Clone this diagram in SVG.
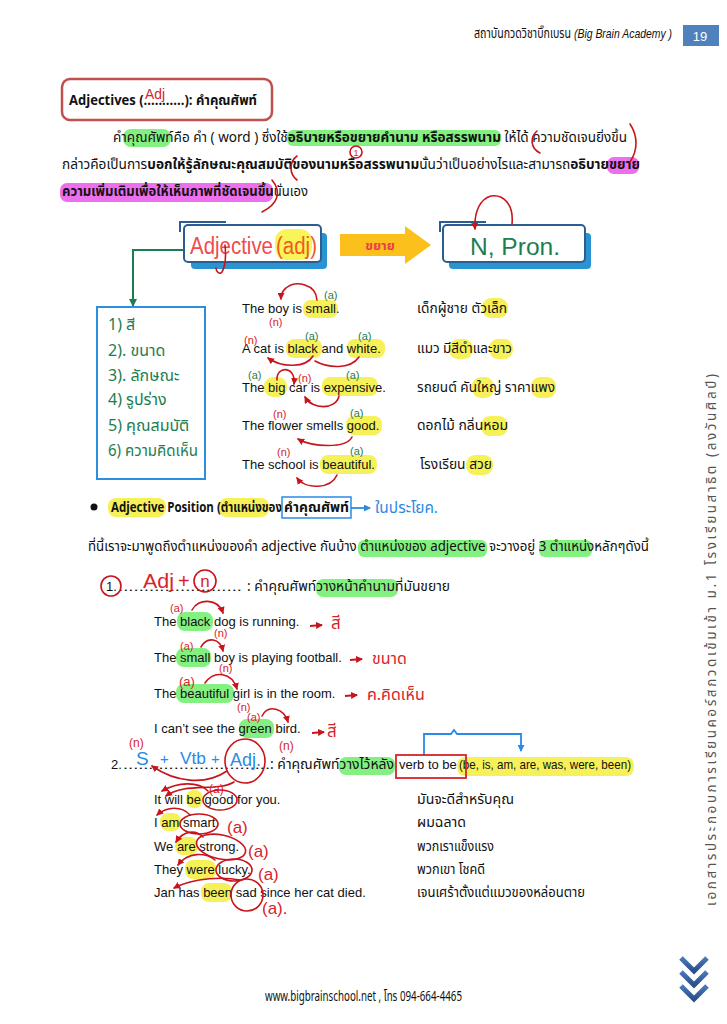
<svg xmlns="http://www.w3.org/2000/svg" width="727" height="1024" viewBox="0 0 727 1024">
<defs>
<style>
.en{font-family:"Liberation Sans",Arial,sans-serif;font-size:13px;fill:#111}
.th{font-family:"Noto Sans Thai","Noto Sans",sans-serif;font-size:13.5px;fill:#111}
.b{font-weight:bold}
.hy{fill:#f6ef3c;opacity:.85}
.hg{fill:#78ee74;opacity:.9}
.hm{fill:#ec5fec;opacity:.9}
.hr{font-family:"Liberation Sans",Arial,sans-serif;fill:#d8232a}
.hgn{font-family:"Liberation Sans",Arial,sans-serif;fill:#1d7d52}
.hb{font-family:"Liberation Sans",Arial,sans-serif;fill:#2a8ae6}
.ht{font-family:"Noto Sans Thai","Noto Sans",sans-serif}
.ra{fill:none;stroke:#c8141c;stroke-width:1.6;stroke-linecap:round}
.ov{fill:none;stroke:#c8141c;stroke-width:1.6}
</style>
<marker id="ar" markerWidth="7" markerHeight="7" refX="6" refY="3.5" orient="auto" markerUnits="userSpaceOnUse"><path d="M0,0 L7,3.5 L0,7 z" fill="#c8141c"/></marker>
<marker id="ag" markerWidth="8" markerHeight="8" refX="7" refY="4" orient="auto" markerUnits="userSpaceOnUse"><path d="M0,0 L8,4 L0,8 z" fill="#1d7d52"/></marker>
<marker id="ab" markerWidth="7" markerHeight="7" refX="6" refY="3.5" orient="auto" markerUnits="userSpaceOnUse"><path d="M0,0 L7,3.5 L0,7 z" fill="#2a8ae6"/></marker>
<linearGradient id="chev" x1="0" y1="0" x2="0" y2="1"><stop offset="0" stop-color="#4a78b8"/><stop offset="1" stop-color="#2a4f8a"/></linearGradient>
</defs>
<rect width="727" height="1024" fill="#fff"/>

<g id="header">
<text x="474" y="38" class="th" font-size="13" textLength="97" lengthAdjust="spacingAndGlyphs">สถาบันกวดวิชาบิ๊กเบรน</text>
<text x="574" y="38" class="en" font-size="9" font-style="italic" textLength="98" lengthAdjust="spacingAndGlyphs">(Big Brain Academy )</text>
<rect x="683" y="25" width="36" height="21" fill="#4f81bd"/>
<text x="700" y="41" class="en" font-size="13" style="fill:#fff" text-anchor="middle">19</text>
</g>

<g id="title">
<rect x="62" y="79" width="210" height="41" rx="8" fill="#fff" stroke="#c0504d" stroke-width="2.5"/>
<text x="69" y="105" class="th b" font-size="13" textLength="188" lengthAdjust="spacingAndGlyphs">Adjectives (...........): คำคุณศัพท์</text>
<text x="145" y="99" class="hr" font-size="15" textLength="20" lengthAdjust="spacingAndGlyphs">Adj</text>
</g>

<g id="paragraph">
<rect x="123" y="129" width="48" height="18" rx="8" class="hg"/>
<rect x="287" y="130" width="214" height="16" rx="6" class="hg"/>
<rect x="607" y="157" width="32" height="17" rx="7" class="hm"/>
<rect x="60" y="183" width="213" height="19" rx="7" class="hm"/>
<text x="113" y="142" class="th" textLength="514" lengthAdjust="spacingAndGlyphs">คำคุณศัพท์คือ คำ ( word ) ซึ่งใช้<tspan class="b">อธิบายหรือขยายคำนาม หรือสรรพนาม</tspan> ให้ได้ ความชัดเจนยิ่งขึ้น</text>
<text x="62" y="169" class="th" textLength="578" lengthAdjust="spacingAndGlyphs">กล่าวคือเป็นการ<tspan class="b">บอกให้รู้ลักษณะคุณสมบัติของนามหรือสรรพนาม</tspan>นั้นว่าเป็นอย่างไรและสามารถ<tspan class="b">อธิบายขยาย</tspan></text>
<text x="62" y="196" class="th" textLength="246" lengthAdjust="spacingAndGlyphs"><tspan class="b">ความเพิ่มเติมเพื่อให้เห็นภาพที่ชัดเจนขึ้น</tspan>นั่นเอง</text>
<path class="ra" d="M537,131 C530,137 530,148 540,153"/>
<path class="ra" d="M630,124 C638,136 638,150 630,162"/>
<path class="ra" d="M297,156 C289,162 289,174 297,180"/>
<circle cx="356" cy="152" r="6" class="ov" stroke-width="1.2"/>
<text x="356" y="156" class="hr" font-size="9" text-anchor="middle">1</text>
<path class="ra" d="M272,180 C282,192 278,204 262,212"/>
</g>

<g id="adj-box">
<path d="M180,232 L180,222 L226,222" fill="none" stroke="#2c5d8f" stroke-width="2"/>
<rect x="191" y="233" width="136" height="36" rx="4" fill="#2a93d2"/>
<rect x="184" y="225" width="137" height="37" rx="4" fill="#fff" stroke="#2c5d8f" stroke-width="2"/>
<rect x="275" y="229" width="37" height="31" rx="12" fill="#f7f33c" opacity=".85"/>
<text x="190" y="254" class="hr" font-size="23" textLength="83" lengthAdjust="spacingAndGlyphs" style="fill:#f04b4b">Adjective</text>
<text x="276" y="254" class="hr" font-size="23" textLength="41" lengthAdjust="spacingAndGlyphs" style="fill:#f05a20">(adj)</text>
<path class="ra" d="M225,245 C226,255 226,265 222,272 C220,275 216,272 216,268"/>
</g>

<g id="arrow-khayai">
<path d="M340,234 L405,234 L405,226 L431,245 L405,264 L405,256 L340,256 Z" fill="#fbc01c"/>
<text x="380" y="250" class="ht" font-size="13" fill="#e8404a" text-anchor="middle" font-weight="bold">ขยาย</text>
</g>

<g id="npron-box">
<path d="M440,232 L440,222 L486,222" fill="none" stroke="#2c5d8f" stroke-width="2"/>
<rect x="449" y="233" width="142" height="36" rx="4" fill="#2a93d2"/>
<rect x="443" y="225" width="142" height="37" rx="4" fill="#fff" stroke="#2c5d8f" stroke-width="2"/>
<text x="470" y="255" class="hgn" font-size="24" textLength="90" lengthAdjust="spacingAndGlyphs">N, Pron.</text>
<path class="ra" d="M512,224 C514,204 503,194 491,196 C480,199 474,212 475,229" marker-end="url(#ar)"/>
</g>

<g id="connectors">
<path d="M184,250 L133,250 L133,306" fill="none" stroke="#1d7d52" stroke-width="2" marker-end="url(#ag)"/>
<path d="M351,508 L370,508" fill="none" stroke="#2a8ae6" stroke-width="1.8" marker-end="url(#ab)"/>
<path d="M424,756 L424,734 L451,734 L454,730 L457,734 L521,734 L521,751" fill="none" stroke="#2a8ae6" stroke-width="1.8" marker-end="url(#ab)"/>
</g>

<g id="list-box">
<rect x="97" y="307" width="108" height="172" fill="#fff" stroke="#2b8fe0" stroke-width="2"/>
<g class="ht" font-size="16" fill="#1d7d52">
<text x="108" y="330">1) สี</text>
<text x="108" y="356">2). ขนาด</text>
<text x="108" y="381">3). ลักษณะ</text>
<text x="108" y="405">4) รูปร่าง</text>
<text x="108" y="431">5) คุณสมบัติ</text>
<text x="108" y="456" textLength="90" lengthAdjust="spacingAndGlyphs">6) ความคิดเห็น</text>
</g>
</g>

<g id="examples-1">
<rect x="303" y="300" width="35" height="18" rx="8" class="hy"/>
<rect x="286" y="339" width="36" height="19" rx="8" class="hy"/>
<rect x="347" y="339" width="38" height="19" rx="8" class="hy"/>
<rect x="264" y="377" width="23" height="20" rx="9" class="hy"/>
<rect x="322" y="377" width="56" height="19" rx="8" class="hy"/>
<rect x="346" y="416" width="36" height="19" rx="8" class="hy"/>
<rect x="320" y="455" width="57" height="19" rx="8" class="hy"/>
<rect x="482" y="298" width="26" height="20" rx="9" class="hy"/>
<rect x="449" y="339" width="24" height="20" rx="9" class="hy"/>
<rect x="489" y="339" width="24" height="20" rx="9" class="hy"/>
<rect x="472" y="377" width="22" height="21" rx="9" class="hy"/>
<rect x="531" y="377" width="25" height="21" rx="9" class="hy"/>
<rect x="481" y="416" width="27" height="20" rx="9" class="hy"/>
<rect x="466" y="455" width="27" height="20" rx="9" class="hy"/>
<text x="242" y="313" class="en">The boy is small.</text>
<text x="242" y="353" class="en">A cat is black and white.</text>
<text x="242" y="392" class="en">The big car is expensive.</text>
<text x="242" y="430" class="en">The flower smells good.</text>
<text x="242" y="469" class="en">The school is beautiful.</text>
<text x="417" y="313" class="th" textLength="90" lengthAdjust="spacingAndGlyphs">เด็กผู้ชาย ตัวเล็ก</text>
<text x="417" y="353" class="th" textLength="95" lengthAdjust="spacingAndGlyphs">แมว มีสีดำและขาว</text>
<text x="417" y="392" class="th" textLength="138" lengthAdjust="spacingAndGlyphs">รถยนต์ คันใหญ่ ราคาแพง</text>
<text x="417" y="430" class="th" textLength="91" lengthAdjust="spacingAndGlyphs">ดอกไม้ กลิ่นหอม</text>
<text x="420" y="469" class="th" textLength="72" lengthAdjust="spacingAndGlyphs">โรงเรียน สวย</text>
<g font-size="11">
<path class="ra" d="M317,300 C316,284 296,280 286,288 C282,291 281,295 281,299" marker-end="url(#ar)"/>
<text x="324" y="299" class="hgn">(a)</text>
<text x="269" y="326" class="hr">(n)</text>
<text x="244" y="344" class="hr">(n)</text>
<text x="305" y="340" class="hgn">(a)</text>
<text x="358" y="340" class="hgn">(a)</text>
<path class="ra" d="M313,356 C306,368 282,368 268,358" marker-end="url(#ar)"/>
<path class="ra" d="M359,357 C350,370 328,368 315,361"/>
<text x="248" y="379" class="hgn">(a)</text>
<path class="ra" d="M277,380 C276,366 296,365 294,384" marker-end="url(#ar)"/>
<text x="298" y="382" class="hr">(n)</text>
<text x="346" y="379" class="hgn">(a)</text>
<path class="ra" d="M339,396 C336,410 312,410 305,397" marker-end="url(#ar)"/>
<text x="273" y="418" class="hr">(n)</text>
<text x="350" y="417" class="hgn">(a)</text>
<path class="ra" d="M352,437 C346,449 312,447 298,439" marker-end="url(#ar)"/>
<text x="277" y="456" class="hr">(n)</text>
<text x="350" y="455" class="hgn">(a)</text>
<path class="ra" d="M337,475 C331,489 306,490 297,478" marker-end="url(#ar)"/>
</g>
</g>

<g id="position">
<circle cx="94" cy="507" r="3.5" fill="#111"/>
<rect x="108" y="498" width="58" height="19" rx="8" class="hy"/>
<rect x="219" y="498" width="50" height="19" rx="8" class="hy"/>
<text x="111" y="512" class="th b" font-size="13" textLength="171" lengthAdjust="spacingAndGlyphs">Adjective Position (ตำแหน่งของ</text>
<text x="284" y="512" class="th b" font-size="13" textLength="65" lengthAdjust="spacingAndGlyphs">คำคุณศัพท์</text>
<rect x="282" y="497" width="69" height="21" fill="none" stroke="#2a8ae6" stroke-width="1.5"/>
<text x="375" y="513" class="ht" font-size="15" fill="#2a8ae6" textLength="63" lengthAdjust="spacingAndGlyphs">ในประโยค.</text>
<rect x="358" y="540" width="129" height="17" rx="6" class="hg"/>
<rect x="539" y="540" width="53" height="17" rx="6" class="hg"/>
<text x="88" y="551" class="th" textLength="561" lengthAdjust="spacingAndGlyphs">ที่นี้เราจะมาพูดถึงตำแหน่งของคำ adjective กันบ้าง ตำแหน่งของ adjective  จะวางอยู่ 3 ตำแหน่งหลักๆดังนี้</text>
</g>

<g id="item-1">
<rect x="316" y="579" width="82" height="18" rx="7" class="hg"/>
<text x="106" y="591" class="en">1.</text>
<text x="118" y="591" class="en" textLength="124" lengthAdjust="spacingAndGlyphs">........................</text>
<text x="247" y="591" class="th" textLength="203" lengthAdjust="spacingAndGlyphs">: คำคุณศัพท์วางหน้าคำนามที่มันขยาย</text>
<circle cx="111" cy="586" r="10" class="ov"/>
<text x="143" y="588" class="hr" font-size="21" textLength="31" lengthAdjust="spacingAndGlyphs">Adj</text>
<text x="178" y="588" class="hr" font-size="20">+</text>
<circle cx="205" cy="581" r="11" class="ov"/>
<text x="205" y="587" class="hr" font-size="17" text-anchor="middle">n</text>

<rect x="177" y="612" width="36" height="19" rx="8" class="hg"/>
<rect x="176" y="648" width="35" height="19" rx="8" class="hg"/>
<rect x="176" y="684" width="58" height="19" rx="8" class="hg"/>
<rect x="239" y="719" width="35" height="19" rx="8" class="hg"/>
<text x="154" y="626" class="en">The black dog is running.</text>
<text x="154" y="662" class="en">The small boy is playing football.</text>
<text x="154" y="698" class="en">The beautiful girl is in the room.</text>
<text x="154" y="733" class="en">I can’t see the green bird.</text>
<g font-size="11">
<text x="170" y="612" class="hr">(a)</text>
<path class="ra" d="M192,610 C198,598 218,598 223,613" marker-end="url(#ar)"/>
<text x="214" y="637" class="hr">(n)</text>
<text x="180" y="650" class="hr">(a)</text>
<path class="ra" d="M201,647 C207,636 220,638 223,651" marker-end="url(#ar)"/>
<text x="219" y="672" class="hr">(n)</text>
<text x="179" y="686" class="hr" font-size="13">(a)</text>
<path class="ra" d="M205,683 C214,670 232,672 237,689" marker-end="url(#ar)"/>
<text x="237" y="711" class="hr">(n)</text>
<text x="247" y="721" class="hr">(a)</text>
<path class="ra" d="M262,716 C268,704 284,708 288,722" marker-end="url(#ar)"/>
</g>
<g stroke="#c8141c" stroke-width="1.8">
<path d="M310,626 L322,625" marker-end="url(#ar)"/>
<path d="M350,660 L362,659" marker-end="url(#ar)"/>
<path d="M345,696 L357,695" marker-end="url(#ar)"/>
<path d="M312,733 L324,732" marker-end="url(#ar)"/>
</g>
<text x="331" y="629" class="ht" font-size="17" fill="#d8232a">สี</text>
<text x="372" y="664" class="ht" font-size="16" fill="#d8232a">ขนาด</text>
<text x="367" y="700" class="ht" font-size="16" fill="#d8232a">ค.คิดเห็น</text>
<text x="327" y="737" class="ht" font-size="17" fill="#d8232a">สี</text>
</g>

<g id="item-2">
<rect x="339" y="757" width="56" height="18" rx="7" class="hg"/>
<rect x="457" y="757" width="177" height="19" rx="8" class="hy"/>
<text x="111" y="769" class="en">2.</text>
<text x="123" y="769" class="en" textLength="147" lengthAdjust="spacingAndGlyphs">.............................</text>
<text x="270" y="769" class="th" textLength="124" lengthAdjust="spacingAndGlyphs">: คำคุณศัพท์วางไว้หลัง</text>
<text x="399" y="769" class="en">verb to be</text>
<text x="459" y="769" class="en" textLength="172" lengthAdjust="spacingAndGlyphs">(be, is, am, are, was, were, been)</text>
<rect x="396" y="755" width="70" height="23" fill="none" stroke="#d8232a" stroke-width="1.8"/>
<text x="136" y="765" class="hb" font-size="19">S</text>
<text x="160" y="764" class="hb" font-size="15">+</text>
<text x="180" y="764" class="hb" font-size="17" textLength="26" lengthAdjust="spacingAndGlyphs">Vtb</text>
<text x="211" y="764" class="hb" font-size="15">+</text>
<text x="230" y="766" class="hb" font-size="19" textLength="31" lengthAdjust="spacingAndGlyphs">Adj.</text>
<ellipse cx="245" cy="761" rx="20" ry="22" class="ov"/>
<g font-size="12">
<text x="129" y="747" class="hr">(n)</text>
<text x="279" y="750" class="hr">(n)</text>
<path class="ra" d="M227,771 C205,786 175,782 152,766" marker-end="url(#ar)"/>
<path class="ra" d="M234,782 C218,792 185,782 166,796" marker-end="url(#ar)"/>
<text x="209" y="793" class="hr">(a)</text>
</g>
<rect x="186" y="790" width="17" height="18" rx="8" class="hy"/>
<rect x="160" y="813" width="21" height="18" rx="8" class="hy"/>
<rect x="175" y="837" width="23" height="18" rx="8" class="hy"/>
<rect x="185" y="860" width="31" height="19" rx="8" class="hy"/>
<rect x="201" y="883" width="31" height="19" rx="8" class="hy"/>
<text x="154" y="804" class="en">It will be good for you.</text>
<text x="154" y="827" class="en">I am smart.</text>
<text x="154" y="851" class="en">We are strong.</text>
<text x="154" y="874" class="en">They were lucky.</text>
<text x="154" y="897" class="en">Jan has been sad since her cat died.</text>
<text x="417" y="804" class="th" textLength="97" lengthAdjust="spacingAndGlyphs">มันจะดีสำหรับคุณ</text>
<text x="417" y="827" class="th" textLength="49" lengthAdjust="spacingAndGlyphs">ผมฉลาด</text>
<text x="417" y="851" class="th" textLength="77" lengthAdjust="spacingAndGlyphs">พวกเราแข็งแรง</text>
<text x="417" y="874" class="th" textLength="68" lengthAdjust="spacingAndGlyphs">พวกเขา โชคดี</text>
<text x="417" y="897" class="th" textLength="168" lengthAdjust="spacingAndGlyphs">เจนเศร้าตั้งแต่แมวของหล่อนตาย</text>
<ellipse cx="220" cy="800" rx="17" ry="10" class="ov"/>
<ellipse cx="199" cy="824" rx="19" ry="10" class="ov"/>
<ellipse cx="221" cy="847" rx="25" ry="12" class="ov" transform="rotate(12 221 847)"/>
<ellipse cx="234" cy="870" rx="18" ry="11" class="ov"/>
<ellipse cx="247" cy="895" rx="16" ry="16" class="ov"/>
<path class="ra" d="M208,791 C198,781 178,782 162,791" marker-end="url(#ar)"/>
<path class="ra" d="M190,815 C182,806 167,806 157,815" marker-end="url(#ar)"/>
<path class="ra" d="M203,837 C195,829 183,831 176,842" marker-end="url(#ar)"/>
<path class="ra" d="M215,860 C205,852 188,852 178,865" marker-end="url(#ar)"/>
<path class="ra" d="M240,880 C225,877 195,877 174,888" marker-end="url(#ar)"/>
<g font-size="17" class="hr">
<text x="227" y="833">(a)</text>
<text x="248" y="857">(a)</text>
<text x="258" y="880">(a)</text>
<text x="262" y="914">(a).</text>
</g>
</g>

<g id="sidebar">
<text transform="translate(716,906) rotate(-90)" class="th" font-size="10" style="fill:#555" textLength="532" lengthAdjust="spacing">เอกสารประกอบการเรียนคอร์สกวดเข้มเข้า ม.1 โรงเรียนสาธิต (ลงวันศิลป์)</text>
<g fill="none" stroke="url(#chev)" stroke-width="5">
<path d="M681,958 L694,971 L707,958"/>
<path d="M681,972 L694,985 L707,972"/>
<path d="M681,986 L694,999 L707,986"/>
</g>
</g>

<g id="footer">
<text x="265" y="1001" class="th" font-size="10.5" textLength="197" lengthAdjust="spacingAndGlyphs">www.bigbrainschool.net , โทร 094-664-4465</text>
</g>
</svg>
